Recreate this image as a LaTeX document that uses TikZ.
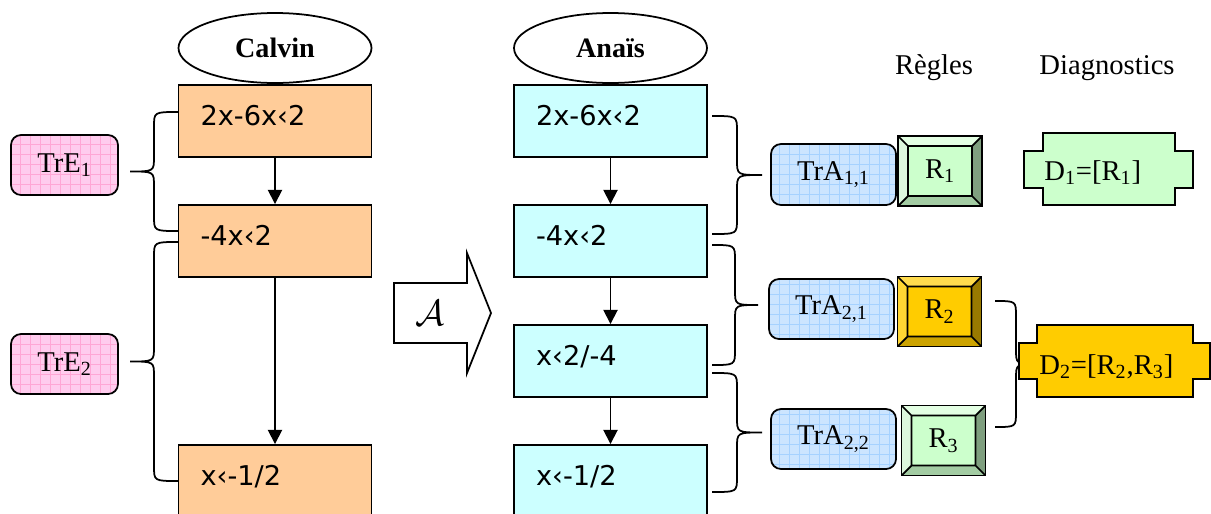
\documentclass[tikz,border=0pt]{standalone}
\usepackage{fontspec}
\setmainfont{Liberation Serif}
\newfontfamily\eqfont{DejaVu Sans}
\usepackage{tikz}
\usetikzlibrary{shapes.geometric,arrows.meta,patterns.meta,calc}
\newcommand{\px}{0.02cm}
\newcommand{\biseau}{0.2cm}
\definecolor{orangebox}{HTML}{FFCC99}
\definecolor{cyanbox}{HTML}{CCFFFF}
\definecolor{rosefond}{HTML}{FFCCEE}
\definecolor{rosegrille}{HTML}{FFA6D5}
\definecolor{bleufond}{HTML}{CCE5FF}
\definecolor{bleugrille}{HTML}{A6D2FF}
\definecolor{vertface}{HTML}{CCFFCC}
\definecolor{verthaut}{HTML}{E3FFE3}
\definecolor{vertgauche}{HTML}{DDF7DD}
\definecolor{vertdroit}{HTML}{7F9F7F}
\definecolor{vertbas}{HTML}{A3CCA3}
\definecolor{jauneface}{HTML}{FFCC00}
\definecolor{jaunehaut}{HTML}{FFDB4D}
\definecolor{jaunegauche}{HTML}{FFD633}
\definecolor{jaunedroit}{HTML}{997A00}
\definecolor{jaunebas}{HTML}{CCA300}
\newcommand{\accolade}[4]{%
\pgfmathsetmacro{\accx}{(#1+#2)/2}
\pgfmathsetmacro{\accy}{(#3+#4)/2}
\draw[accol] (#1,#3) .. controls (\accx,#3) .. (\accx,#3+15) -- (\accx,\accy-15)
  .. controls (\accx,\accy) .. (#2,\accy) .. controls (\accx,\accy) .. (\accx,\accy+15)
  -- (\accx,#4-15) .. controls (\accx,#4) .. (#1,#4);}
\tikzset{
  joueur/.style={ellipse, draw, line width=1pt, minimum width=193*\px, minimum height=70*\px,
    inner sep=0pt, font=\fontsize{16}{19}\selectfont\bfseries},
  eqbox/.style={rectangle, draw, line width=1.1pt, fill=#1, minimum width=193*\px,
    minimum height=72*\px, text width=149*\px, align=left, inner xsep=22*\px, inner ysep=0pt,
    text height=0.75em, text depth=0.25em, font=\eqfont\fontsize{15.5}{18}\selectfont},
  trans/.style 2 args={rectangle, rounded corners=0.2cm, draw, line width=1pt,
    preaction={fill=#1}, pattern={Hatch[angle=0,distance=0.2cm,line width=0.5pt]},
    pattern color=#2, inner sep=0pt, font=\fontsize{16.3}{19}\selectfont},
  regle/.style n args={5}{rectangle, draw, line width=1pt, fill=#1, inner sep=0pt,
    minimum width=84*\px, minimum height=70*\px, font=\fontsize{16.3}{19}\selectfont,
    path picture={
      \coordinate (q1) at (path picture bounding box.north west);
      \coordinate (q2) at (path picture bounding box.north east);
      \coordinate (q3) at (path picture bounding box.south east);
      \coordinate (q4) at (path picture bounding box.south west);
      \coordinate (p1) at ([xshift=\biseau,yshift=-\biseau]q1);
      \coordinate (p2) at ([xshift=-\biseau,yshift=-\biseau]q2);
      \coordinate (p3) at ([xshift=-\biseau,yshift=\biseau]q3);
      \coordinate (p4) at ([xshift=\biseau,yshift=\biseau]q4);
      \fill[#2] (q1) -- (q2) -- (p2) -- (p1) -- cycle;
      \fill[#3] (q1) -- (p1) -- (p4) -- (q4) -- cycle;
      \fill[#4] (q2) -- (q3) -- (p3) -- (p2) -- cycle;
      \fill[#5] (q4) -- (p4) -- (p3) -- (q3) -- cycle;
      \draw (p1) rectangle (p3) (q1) -- (p1) (q2) -- (p2) (q3) -- (p3) (q4) -- (p4);
    }},
  fleche/.style={line width=1pt, -{Triangle[width=8pt,length=8pt]}},
  accol/.style={line width=1pt},
  diag/.style={draw, line width=1pt},
  entete/.style={anchor=base, font=\fontsize{16.3}{19}\selectfont},
}
\begin{document}
\begin{tikzpicture}[x=\px, y=-\px]
\useasboundingbox (0,0) rectangle (1211,514);
\clip (0,0) rectangle (1211,514);
% Calvin
\node[joueur] (calvin) at (275,48) {Calvin};
\node[eqbox=orangebox] (c1) at (275,121) {2x-6x‹2};
\node[eqbox=orangebox] (c2) at (275,241) {-4x‹2};
\node[eqbox=orangebox] (c3) at (275,481) {x‹-1/2};
\draw[fleche] (c1) -- (c2);
\draw[fleche] (c2) -- (c3);
\node[trans={rosefond}{rosegrille}, minimum width=107*\px, minimum height=60*\px] (tre1) at (64.5,165) {TrE\textsubscript{1}};
\node[trans={rosefond}{rosegrille}, minimum width=107*\px, minimum height=60*\px] (tre2) at (64.5,364) {TrE\textsubscript{2}};
\accolade{178}{130}{112}{231}
\accolade{178}{130}{242}{481}
% algorithme
\draw[line width=1pt] (394,283) -- (467,283) -- (467,253) -- (491,313) -- (467,373) -- (467,343) -- (394,343) -- cycle;
\node (algo) at (430,313) {\fontsize{20}{24}\selectfont$\mathcal{A}$};
% Anais
\node[joueur] (anais) at (610.5,48) {Anaïs};
\node[eqbox=cyanbox] (a1) at (610.5,121) {2x-6x‹2};
\node[eqbox=cyanbox] (a2) at (610.5,241) {-4x‹2};
\node[eqbox=cyanbox] (a3) at (610.5,361) {x‹2/-4};
\node[eqbox=cyanbox] (a4) at (610.5,481) {x‹-1/2};
\draw[fleche] (a1) -- (a2);
\draw[fleche] (a2) -- (a3);
\draw[fleche] (a3) -- (a4);
\accolade{712}{762}{116}{234}
\accolade{712}{758}{245}{365}
\accolade{712}{762}{373}{492}
% transformations et regles
\node[trans={bleufond}{bleugrille}, minimum width=125*\px, minimum height=61*\px] (tra11) at (833.5,174.5) {TrA\textsubscript{1,1}};
\node[trans={bleufond}{bleugrille}, minimum width=125*\px, minimum height=60*\px] (tra21) at (831.5,309) {TrA\textsubscript{2,1}};
\node[trans={bleufond}{bleugrille}, minimum width=125*\px, minimum height=60*\px] (tra22) at (833.5,439) {TrA\textsubscript{2,2}};
\node[regle={vertface}{verthaut}{vertgauche}{vertdroit}{vertbas}] (r1) at (940,171) {R\textsubscript{1}};
\node[regle={jauneface}{jaunehaut}{jaunegauche}{jaunedroit}{jaunebas}] (r2) at (939.5,311.5) {R\textsubscript{2}};
\node[regle={vertface}{verthaut}{vertgauche}{vertdroit}{vertbas}] (r3) at (943.5,440.5) {R\textsubscript{3}};
\node[entete] (regles) at (934,74) {Règles};
\node[entete] (diagnostics) at (1107,74) {Diagnostics};
% diagnostics
\accolade{995}{1037}{301}{427}
\draw[diag, fill=vertface] (1043,133) -- (1175,133) -- (1175,151) -- (1193,151) -- (1193,188) -- (1175,188)
  -- (1175,205) -- (1043,205) -- (1043,188) -- (1024,188) -- (1024,151) -- (1043,151) -- cycle;
\node[entete, anchor=base west, inner sep=0pt] (d1) at (1044,180) {D\textsubscript{1}=[R\textsubscript{1}]};
\draw[diag, fill=jauneface] (1037,325) -- (1193,325) -- (1193,343) -- (1210,343) -- (1210,379) -- (1193,379)
  -- (1193,397) -- (1037,397) -- (1037,379) -- (1019,379) -- (1019,343) -- (1037,343) -- cycle;
\node[entete, anchor=base west, inner sep=0pt] (d2) at (1039,374) {D\textsubscript{2}=[R\textsubscript{2},R\textsubscript{3}]};
\end{tikzpicture}
\end{document}
